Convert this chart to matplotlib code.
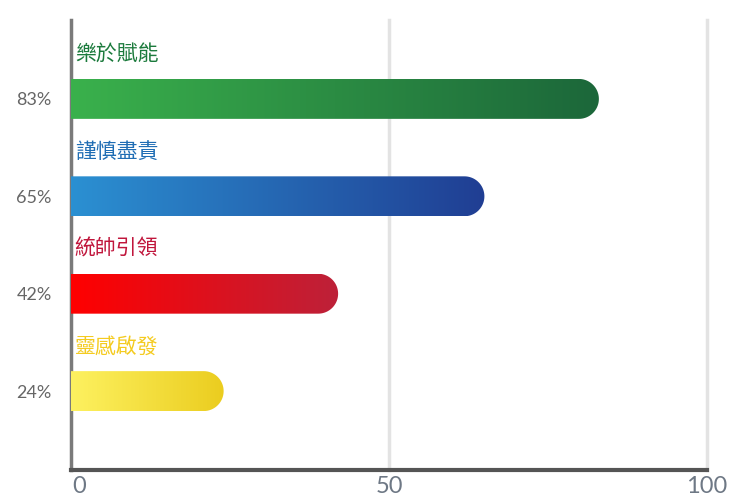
import numpy as np
import matplotlib.pyplot as plt
from matplotlib.colors import LinearSegmentedColormap
from matplotlib.path import Path
from matplotlib.patches import PathPatch
from matplotlib.transforms import ScaledTranslation

plt.rcParams["font.family"] = ["Noto Sans CJK TC", "DejaVu Sans"]

# data, top to bottom
names = ["樂於賦能", "謹慎盡責", "統帥引領", "靈感啟發"]
values = [83, 65, 42, 24]
pct_labels = ["83%", "65%", "42%", "24%"]
grad_left = ["#3ab14c", "#2b90d2", "#ff0000", "#fdf160"]
grad_right = ["#1c673a", "#203e93", "#bd2139", "#ebcd1f"]
text_colors = ["#1b7a3c", "#1f6db4", "#c0163c", "#f4cb20"]

W, H = 740, 504
fig = plt.figure(figsize=(W / 100, H / 100), dpi=100)
ax = fig.add_axes([71 / W, 34 / H, 636 / W, 450 / H])

n = len(values)
ys = np.arange(n)[::-1]  # top bar at highest y
ax.set_xlim(0, 100)
ax.set_ylim(-0.81, 3.81)

bar_h = 0.41
# rounded end radius in data units (half bar height in pixels)
px_per_x = 636 / 100
px_per_y = 450 / 4.62
r_px = bar_h * px_per_y / 2
rx = r_px / px_per_x
ry = bar_h / 2

for i in range(n):
    v = values[i]
    y = ys[i]
    cmap = LinearSegmentedColormap.from_list(f"g{i}", [grad_left[i], grad_right[i]])
    grad = np.linspace(0, 1, 256).reshape(1, -1)
    im = ax.imshow(grad, cmap=cmap, aspect="auto",
                   extent=[0, v, y - bar_h / 2, y + bar_h / 2], zorder=3)
    t = np.linspace(-np.pi / 2, np.pi / 2, 40)
    arc_x = (v - rx) + rx * np.cos(t)
    arc_y = y + ry * np.sin(t)
    verts = [(0, y - ry)] + list(zip(arc_x, arc_y)) + [(0, y + ry), (0, y - ry)]
    codes = [Path.MOVETO] + [Path.LINETO] * (len(verts) - 2) + [Path.CLOSEPOLY]
    patch = PathPatch(Path(verts, codes), facecolor="none", edgecolor="none")
    ax.add_patch(patch)
    im.set_clip_path(patch)

    ax.text(0.6, y + 0.46, names[i], color=text_colors[i], fontsize=15,
            ha="left", va="center", zorder=4)

# grid lines
for gx in [50, 100]:
    ax.axvline(gx, color="#e3e3e3", lw=2.5, zorder=1, clip_on=False)

ax.set_yticks(ys)
ax.set_yticklabels(pct_labels, fontsize=13, color="#666666", family=["Lato", "DejaVu Sans"])
ax.set_xticks([0, 50, 100])
ax.set_xticklabels(["0", "50", "100"], fontsize=17, color="#6e7885", family=["Lato", "DejaVu Sans"])
ax.tick_params(axis="y", length=0, pad=14)
ax.tick_params(axis="x", length=0, pad=4)
lbl0 = ax.get_xticklabels()[0]
lbl0.set_transform(lbl0.get_transform() + ScaledTranslation(8 / 100, 0, fig.dpi_scale_trans))

for s in ["top", "right"]:
    ax.spines[s].set_visible(False)
ax.spines["left"].set_color("#7a7a7a")
ax.spines["left"].set_linewidth(2.5)
ax.spines["bottom"].set_color("#555555")
ax.spines["bottom"].set_linewidth(3)

fig.savefig("out.png", dpi=100)
